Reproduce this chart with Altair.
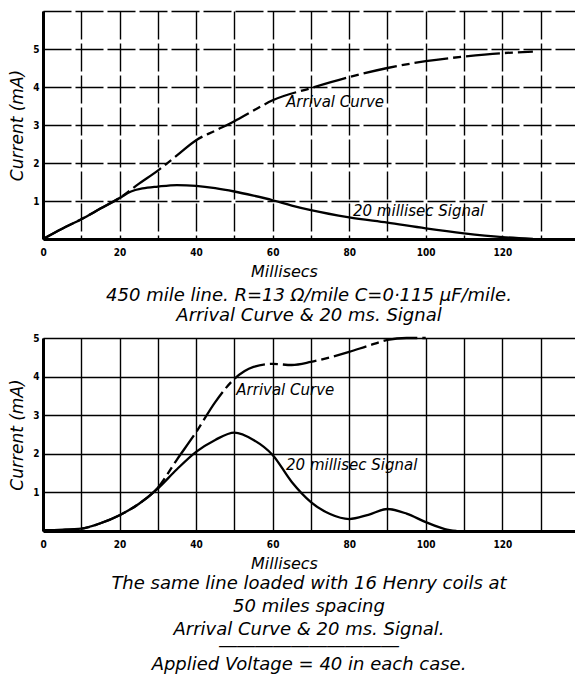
import altair as alt
import pandas as pd

# ---------- data ----------
# Upper panel: 450 mile line, unloaded
top_arrival_ms = [0, 5, 10, 15, 20, 25, 30, 35, 40, 45, 50, 55, 60, 70, 80, 90, 100, 110, 120, 128]
top_arrival_ma = [0, 0.27, 0.52, 0.8, 1.08, 1.45, 1.8, 2.2, 2.6, 2.85, 3.1, 3.38, 3.65, 3.97, 4.26, 4.5, 4.68, 4.8, 4.89, 4.93]
top_signal_ms = [0, 5, 10, 15, 20, 23, 26, 30, 35, 40, 45, 50, 55, 60, 65, 70, 80, 90, 100, 110, 120, 128]
top_signal_ma = [0, 0.27, 0.52, 0.8, 1.08, 1.25, 1.33, 1.38, 1.42, 1.4, 1.34, 1.25, 1.14, 1.02, 0.88, 0.76, 0.57, 0.43, 0.28, 0.15, 0.05, 0.0]

# Lower panel: same line loaded with 16 Henry coils at 50 miles spacing
bot_arrival_ms = [0, 5, 10, 15, 20, 25, 30, 35, 40, 45, 50, 55, 60, 65, 70, 75, 80, 85, 90, 95, 100]
bot_arrival_ma = [0.02, 0.03, 0.06, 0.2, 0.41, 0.7, 1.12, 1.85, 2.56, 3.34, 3.94, 4.25, 4.33, 4.3, 4.38, 4.5, 4.64, 4.8, 4.95, 5.0, 5.0]
bot_signal_ms = [0, 5, 10, 15, 20, 25, 30, 35, 40, 45, 50, 55, 60, 65, 70, 75, 80, 85, 90, 95, 100, 105, 108]
bot_signal_ma = [0.02, 0.03, 0.06, 0.2, 0.41, 0.7, 1.1, 1.6, 2.05, 2.36, 2.55, 2.36, 1.97, 1.27, 0.75, 0.44, 0.31, 0.42, 0.57, 0.45, 0.23, 0.05, 0.0]

# curve labels
top_label_text = ["Arrival Curve", "20 millisec Signal"]
top_label_ms = [63.5, 81]
top_label_ma = [3.6, 0.75]
bot_label_text = ["Arrival Curve", "20 millisec Signal"]
bot_label_ms = [50.5, 63.5]
bot_label_ma = [3.65, 1.7]

# tick / grid values
x_grid = list(range(0, 140, 10))
top_y_grid = [1, 2, 3, 4, 5, 6]
bot_y_grid = [1, 2, 3, 4, 5]

top_caption = ["450 mile line.  R=13 Ω/mile  C=0·115 µF/mile.",
               "Arrival Curve & 20 ms. Signal"]
bot_caption = ["The same line loaded with 16 Henry coils at",
               "50 miles spacing",
               "Arrival Curve & 20 ms. Signal."]
bot_subcaption = ["――――――――――", "Applied Voltage = 40 in each case."]

HAND = "DejaVu Sans"
TICKF = "DejaVu Sans Condensed"


def panel(arr_ms, arr_ma, sig_ms, sig_ma, lab_t, lab_x, lab_y, ymax, ygrid,
          height, title, grid_dash):
    arr = pd.DataFrame({"ms": arr_ms, "ma": arr_ma})
    sig = pd.DataFrame({"ms": sig_ms, "ma": sig_ma})
    lab = pd.DataFrame({"ms": lab_x, "ma": lab_y, "t": lab_t})

    x = alt.X("ms:Q", scale=alt.Scale(domain=[0, 139], nice=False, zero=False),
              axis=alt.Axis(values=x_grid,
                            labelExpr="datum.value % 20 == 0 && datum.value <= 120 ? datum.label : ''",
                            grid=True, gridColor="black", gridWidth=1.4, gridDash=grid_dash,
                            domainColor="black", domainWidth=3, ticks=False,
                            labelFont=TICKF, labelFontWeight="bold", labelFontSize=10,
                            labelColor="black", labelPadding=8, labelFlush=False,
                            title="Millisecs", titleFont=HAND, titleFontStyle="italic",
                            titleFontWeight="normal", titleFontSize=16, titleColor="black",
                            titleX=241, titlePadding=6))
    y = alt.Y("ma:Q", scale=alt.Scale(domain=[0, ymax], nice=False),
              axis=alt.Axis(values=ygrid,
                            labelExpr="datum.value <= 5 ? datum.label : ''",
                            grid=True, gridColor="black", gridWidth=1.4, gridDash=grid_dash,
                            domainColor="black", domainWidth=3, ticks=False,
                            labelFont=TICKF, labelFontWeight="bold", labelFontSize=10,
                            labelColor="black", labelPadding=4,
                            title="Current (mA)", titleFont=HAND, titleFontStyle="italic",
                            titleFontWeight="normal", titleFontSize=17, titleColor="black",
                            titlePadding=6))

    l_arr = alt.Chart(arr).mark_line(color="black", strokeWidth=2.3, interpolate="monotone",
                                     strokeDash=[34, 5, 8, 5]).encode(x=x, y=y)
    l_sig = alt.Chart(sig).mark_line(color="black", strokeWidth=2.3,
                                     interpolate="monotone").encode(x=x, y=y)
    txt = alt.Chart(lab).mark_text(align="left", baseline="middle", font=HAND,
                                   fontStyle="italic", fontSize=15, color="black").encode(
        x=x, y=y, text="t:N")
    return alt.layer(l_arr, l_sig, txt).properties(width=532, height=height, title=title)


top_title = alt.TitleParams(text=top_caption, orient="bottom", anchor="middle",
                            font=HAND, fontStyle="italic", fontWeight="normal",
                            fontSize=18, color="black", lineHeight=20, offset=8)
bot_title = alt.TitleParams(text=bot_caption, orient="bottom", anchor="middle",
                            font=HAND, fontStyle="italic", fontWeight="normal",
                            fontSize=18, color="black", lineHeight=23, offset=4,
                            subtitle=bot_subcaption, subtitleFont=HAND,
                            subtitleFontStyle="italic", subtitleFontSize=18,
                            subtitleColor="black", subtitleLineHeight=19,
                            subtitlePadding=-2)

top = panel(top_arrival_ms, top_arrival_ma, top_signal_ms, top_signal_ma,
            top_label_text, top_label_ms, top_label_ma, 6, top_y_grid, 228, top_title,
            [28, 4])
bot = panel(bot_arrival_ms, bot_arrival_ma, bot_signal_ms, bot_signal_ma,
            bot_label_text, bot_label_ms, bot_label_ma, 5, bot_y_grid, 193, bot_title,
            [1, 0])

chart = alt.vconcat(top, bot, spacing=8).properties(
    padding={"left": 8, "top": 11, "right": 0, "bottom": 0},
    background="white",
).configure_view(stroke=None)

chart.save("out.html", embed_options={"renderer": "svg", "actions": False})
